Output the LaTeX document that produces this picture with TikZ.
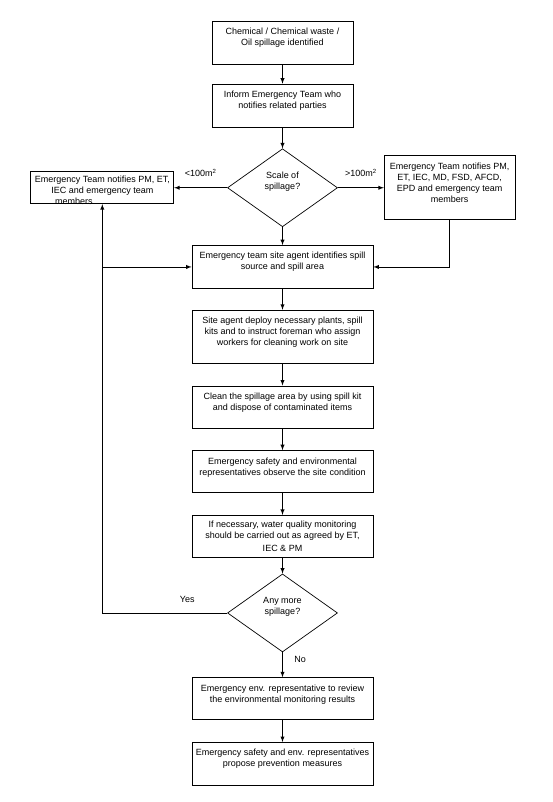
\documentclass[tikz,border=0pt]{standalone}
\usepackage{fontspec}
\setmainfont{Liberation Sans}
\usepackage{tikz}
\usetikzlibrary{shapes,arrows,positioning}
\newcommand{\cell}[4][13.5pt]{\parbox[c][#3][t]{#2}{\centering\rule{0pt}{#1}#4}}
\tikzset{
	stepbox/.style  = {shape=rectangle, draw, line width=0.7pt, inner sep=0pt},
	decision/.style = {diamond, draw, line width=0.7pt, align=center, aspect=1.4,
		inner sep=0pt, minimum width=110pt, minimum height=78pt},
	curve/.style    = {-latex, line width=0.9pt},
}

\begin{document}
\begin{tikzpicture}
	[
	every node/.style = {font=\fontsize{9}{11}\selectfont},
	node distance    = 20pt
	]
	\useasboundingbox[fill=white] (0,0) rectangle (553pt,-802pt);
	
	\node[stepbox, anchor=north](spill) at (282.5pt,-21pt){
		\cell{141pt}{43pt}{Chemical / Chemical waste /\\Oil spillage identified}
	};
	\node[stepbox, below=19pt of spill](inform){
		\cell{141pt}{43pt}{Inform Emergency Team who\\notifies related parties}
	};
	\node[decision, below=21pt of inform](scale){
		Scale of\\spillage?\rule[-14pt]{0pt}{0pt}
	};
	\node[stepbox, left=53pt of scale](notifysmall){
		\cell[10.5pt]{143pt}{32pt}{Emergency Team notifies PM, ET,\\IEC and emergency team\\members\hspace*{57pt}}
	};
	\node[stepbox, right=46pt of scale](notifylarge){
		\cell[14pt]{131pt}{64pt}{Emergency Team notifies PM,\\ET, IEC, MD, FSD, AFCD,\\EPD and emergency team\\members}
	};
	\node[stepbox, below=18pt of scale](identify){
		\cell{181pt}{43pt}{Emergency team site agent identifies spill\\source and spill area}
	};
	\node[stepbox, below=21pt of identify](deploy){
		\cell{181pt}{53pt}{Site agent deploy necessary plants, spill\\kits and to instruct foreman who assign\\workers for cleaning work on site}
	};
	\node[stepbox, below=22pt of deploy](clean){
		\cell{181pt}{42pt}{Clean the spillage area by using spill kit\\and dispose of contaminated items}
	};
	\node[stepbox, below=22pt of clean](observe){
		\cell{181pt}{42pt}{Emergency safety and environmental\\representatives observe the site condition}
	};
	\node[stepbox, below=22pt of observe](monitor){
		\cell[12.5pt]{181pt}{42pt}{If necessary, water quality monitoring\\should be carried out as agreed by ET,\\[1.5pt]IEC \& PM}
	};
	\node[decision, below=16pt of monitor](more){
		Any more\\spillage?\rule[-14pt]{0pt}{0pt}
	};
	\node[stepbox, below=25pt of more](review){
		\cell{181pt}{42pt}{Emergency env. representative to review\\the environmental monitoring results}
	};
	\node[stepbox, below=22pt of review](prevent){
		\cell{181pt}{43pt}{Emergency safety and env. representatives\\propose prevention measures}
	};
	
	\coordinate (loop) at (notifysmall.south |- identify.west);
	
	\draw [curve] (spill) -- (inform);
	\draw [curve] (inform) -- (scale);
	\draw [curve] (scale.west) -- node[above=7pt]{<100m\textsuperscript{2}} (notifysmall.east);
	\draw [curve] (scale.east) -- node[above=7pt]{>100m\textsuperscript{2}} (notifylarge.west);
	\draw [curve] (scale) -- (identify);
	\draw [curve] (notifylarge.south) |- (identify.east);
	\draw [curve] (loop) -- (identify.west);
	\draw [curve] (identify) -- (deploy);
	\draw [curve] (deploy) -- (clean);
	\draw [curve] (clean) -- (observe);
	\draw [curve] (observe) -- (monitor);
	\draw [curve] (monitor) -- (more);
	\draw [curve] (more.west) -| node[pos=0.16, above=7pt]{Yes} (notifysmall.south);
	\draw [curve] (more) -- node[right=8pt, pos=0.3]{No} (review);
	\draw [curve] (review) -- (prevent);
\end{tikzpicture}
\end{document}
